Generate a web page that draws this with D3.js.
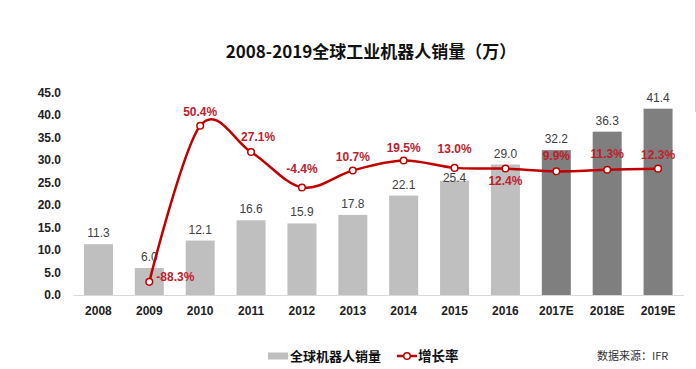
<!DOCTYPE html>
<html><head><meta charset="utf-8">
<script src="https://cdn.jsdelivr.net/npm/d3@7"></script>
<style>
body{margin:0;background:#fff;}
svg{display:block;font-family:"Liberation Sans",Arial,"Noto Sans CJK SC",sans-serif;}
</style></head><body>
<svg id="c" width="696" height="369"></svg>
<script>
const years = ["2008","2009","2010","2011","2012","2013","2014","2015","2016","2017E","2018E","2019E"];
const sales = [11.3,6.0,12.1,16.6,15.9,17.8,22.1,25.4,29.0,32.2,36.3,41.4];
const growthYears = ["2009","2010","2011","2012","2013","2014","2015","2016","2017E","2018E","2019E"];
const growth = [-88.3,50.4,27.1,-4.4,10.7,19.5,13.0,12.4,9.9,11.3,12.3];
const forecast = ["2017E","2018E","2019E"];
const yTicks = [0,5,10,15,20,25,30,35,40,45];

// label placement (style only)
const growthLabelDx = [7,0,7,0,0,0,0,0,0,0,0];
const growthLabelDy = [-1,-10,-11.5,-14,-9,-9,-15,16,-11,-12,-10];
const barLabelDy = [-7,-7,-7,-7,-7,-7,-7,1,-7,-7,-7,-7];

const svg = d3.select("#c");
const x = d3.scaleBand().domain(years).range([73, 683.5]).paddingInner(0.43).paddingOuter(0.215);
const y = d3.scaleLinear().domain([0,45]).range([295, 92.5]);
const y2 = d3.scaleLinear().domain([-100,80]).range([295, 92.5]);

// title
svg.append("text").attr("x",371).attr("y",58).attr("text-anchor","middle")
  .attr("font-size",17).attr("font-weight","bold").attr("fill","#111")
  .attr("font-family","'Noto Sans CJK SC',sans-serif")
  .text("2008-2019全球工业机器人销量（万）");

// frame piece at right edge
svg.append("line").attr("x1",695.5).attr("x2",695.5).attr("y1",0).attr("y2",112).attr("stroke","#d0d0d0");

// y axis
const ya = svg.append("g").attr("transform","translate(73,0)")
  .call(d3.axisLeft(y).tickValues(yTicks).tickFormat(d3.format(".1f")).tickSize(0).tickPadding(12));
ya.select(".domain").remove();
ya.selectAll("text").attr("font-size",12).attr("font-weight","bold").attr("fill","#222")
  .attr("font-family","'Liberation Sans',Arial,sans-serif");

// bars
svg.selectAll("rect.bar").data(years).enter().append("rect").attr("class","bar")
  .attr("x",d=>x(d)).attr("width",x.bandwidth())
  .attr("y",(d,i)=>y(sales[i])).attr("height",(d,i)=>y(0)-y(sales[i]))
  .attr("fill",d=>forecast.includes(d)?"#7f7f7f":"#bfbfbf");

// x axis
const xa = svg.append("g").attr("transform","translate(0,295)")
  .call(d3.axisBottom(x).tickSize(0).tickPadding(11));
xa.select(".domain").attr("stroke","#d9d9d9");
xa.selectAll("text").attr("font-size",12).attr("font-weight","bold").attr("fill","#222")
  .attr("font-family","'Liberation Sans',Arial,sans-serif");

// bar labels
svg.selectAll("text.bl").data(years).enter().append("text").attr("class","bl")
  .attr("x",d=>x(d)+x.bandwidth()/2).attr("y",(d,i)=>y(sales[i])+barLabelDy[i])
  .attr("text-anchor","middle").attr("font-size",12).attr("fill","#404040")
  .text((d,i)=>sales[i].toFixed(1));

// growth line
const pts = growthYears.map((d,i)=>[x(d)+x.bandwidth()/2, y2(growth[i])]);
svg.append("path").attr("d", d3.line().curve(d3.curveCardinal.tension(0))(pts))
  .attr("fill","none").attr("stroke","#c00000").attr("stroke-width",2.5);
svg.selectAll("circle.pt").data(pts).enter().append("circle").attr("class","pt")
  .attr("cx",d=>d[0]).attr("cy",d=>d[1]).attr("r",3.3)
  .attr("fill","#fff").attr("stroke","#c00000").attr("stroke-width",1.5);

// growth labels
svg.selectAll("text.gl").data(growthYears).enter().append("text").attr("class","gl")
  .attr("x",(d,i)=>pts[i][0]+growthLabelDx[i])
  .attr("y",(d,i)=>pts[i][1]+growthLabelDy[i])
  .attr("text-anchor",(d,i)=>i===0?"start":"middle")
  .attr("font-size",12).attr("font-weight","bold").attr("fill","#c0202a")
  .text((d,i)=>growth[i].toFixed(1)+"%");

// legend
const lg = svg.append("g").attr("font-family","'Noto Sans CJK SC',sans-serif");
lg.append("rect").attr("x",268).attr("y",352.5).attr("width",20).attr("height",7).attr("fill","#bfbfbf");
lg.append("text").attr("x",290).attr("y",361).attr("font-size",13).attr("font-weight","bold").attr("fill","#111").text("全球机器人销量");
lg.append("line").attr("x1",397).attr("x2",417).attr("y1",356).attr("y2",356).attr("stroke","#c00000").attr("stroke-width",2.5);
lg.append("circle").attr("cx",407).attr("cy",356).attr("r",3.3).attr("fill","#fff").attr("stroke","#c00000").attr("stroke-width",1.5);
lg.append("text").attr("x",418).attr("y",361).attr("font-size",13.5).attr("font-weight","bold").attr("fill","#111").text("增长率");
lg.append("text").attr("x",597).attr("y",360).attr("font-size",11).attr("fill","#333").text("数据来源：IFR");
</script></body></html>
